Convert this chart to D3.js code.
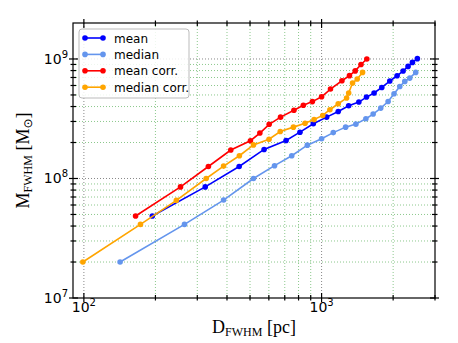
<!DOCTYPE html>
<html>
<head>
<meta charset="utf-8">
<script src="https://cdn.jsdelivr.net/npm/d3@7"></script>
<style>
    body { margin: 0; background: #fff; }
    svg { display: block; }
</style>
</head>
<body>
<div id="chart"></div>
<script>
// Values (D in pc, M in solar masses)
const meanD = [194, 324, 450, 573, 709, 811, 923, 1050, 1175, 1300, 1435, 1545, 1663, 1792, 1936, 2078, 2203, 2311, 2411, 2529];
const meanM = [4.85e7, 8.5e7, 1.26e8, 1.75e8, 2.08e8, 2.44e8, 2.87e8, 3.26e8, 3.63e8, 4.06e8, 4.36e8, 4.8e8, 5.19e8, 5.78e8, 6.54e8, 7.24e8, 7.93e8, 8.67e8, 9.36e8, 1.006e9];

const medianD = [142, 265, 387, 517, 634, 749, 871, 1000, 1120, 1262, 1394, 1536, 1648, 1774, 1905, 2018, 2133, 2239, 2350, 2489];
const medianM = [2e7, 4.13e7, 6.6e7, 1.0e8, 1.28e8, 1.55e8, 1.9e8, 2.15e8, 2.42e8, 2.69e8, 2.85e8, 3.16e8, 3.46e8, 3.88e8, 4.41e8, 5.12e8, 5.89e8, 6.49e8, 6.92e8, 7.72e8];

const meanCorrD = [165, 255, 334, 415, 502, 550, 602, 672, 765, 838, 915, 1000, 1090, 1218, 1310, 1385, 1465, 1550];
const meanCorrM = [4.85e7, 8.5e7, 1.26e8, 1.73e8, 2.07e8, 2.4e8, 2.84e8, 3.26e8, 3.72e8, 4.1e8, 4.4e8, 4.83e8, 5.6e8, 6.57e8, 7.25e8, 7.95e8, 9.0e8, 1.0e9];

const medianCorrD = [99, 173, 245, 327, 387, 451, 517, 601, 670, 761, 852, 930, 1011, 1084, 1175, 1274, 1300, 1350, 1412, 1487];
const medianCorrM = [2e7, 4.13e7, 6.56e7, 1.0e8, 1.27e8, 1.55e8, 1.91e8, 2.13e8, 2.47e8, 2.69e8, 2.9e8, 3.12e8, 3.37e8, 3.76e8, 4.22e8, 4.71e8, 5.19e8, 6.29e8, 6.8e8, 7.72e8];

const seriesNames = ["mean", "median", "mean corr.", "median corr."];
const seriesColors = ["#0000ff", "#6495ed", "#ff0000", "#ffa500"];

const xMajor = [100, 1000];
const xMinor = [200, 300, 400, 500, 600, 700, 800, 900, 2000, 3000];
const yMajor = [1e7, 1e8, 1e9];
const yMinor = [2e7, 3e7, 4e7, 5e7, 6e7, 7e7, 8e7, 9e7, 2e8, 3e8, 4e8, 5e8, 6e8, 7e8, 8e8, 9e8];

const width = 458, height = 343;
const plotLeft = 73, plotRight = 435, plotTop = 23, plotBottom = 298;

const x = d3.scaleLog().domain([90, 3000]).range([plotLeft, plotRight]);
const y = d3.scaleLog().domain([1e7, 2e9]).range([plotBottom, plotTop]);

const svg = d3.select("#chart").append("svg")
    .attr("width", width)
    .attr("height", height)
    .style("font-family", "'DejaVu Sans', sans-serif");

// grid: minor green dotted, major gray dotted
const grid = svg.append("g");
grid.selectAll(".vminor").data(xMinor.filter(d => x(d) < plotRight - 1)).join("line")
    .attr("x1", d => x(d)).attr("x2", d => x(d))
    .attr("y1", plotTop).attr("y2", plotBottom)
    .attr("stroke", "#8cc88c").attr("stroke-dasharray", "1,2");
grid.selectAll(".hminor").data(yMinor).join("line")
    .attr("x1", plotLeft).attr("x2", plotRight)
    .attr("y1", d => y(d)).attr("y2", d => y(d))
    .attr("stroke", "#8cc88c").attr("stroke-dasharray", "1,2");
grid.selectAll(".vmajor").data(xMajor).join("line")
    .attr("x1", d => x(d)).attr("x2", d => x(d))
    .attr("y1", plotTop).attr("y2", plotBottom)
    .attr("stroke", "#888").attr("stroke-dasharray", "1,2");
grid.selectAll(".hmajor").data(yMajor.filter(d => y(d) > plotTop + 1 && y(d) < plotBottom - 1)).join("line")
    .attr("x1", plotLeft).attr("x2", plotRight)
    .attr("y1", d => y(d)).attr("y2", d => y(d))
    .attr("stroke", "#888").attr("stroke-dasharray", "1,2");

// series lines and markers
const series = [
    [meanD, meanM],
    [medianD, medianM],
    [meanCorrD, meanCorrM],
    [medianCorrD, medianCorrM]
];
const line = d3.line().x(d => x(d[0])).y(d => y(d[1]));

series.forEach(([ds, ms], i) => {
    const pts = ds.map((d, j) => [d, ms[j]]);
    const g = svg.append("g");
    g.append("path")
        .datum(pts)
        .attr("d", line)
        .attr("fill", "none")
        .attr("stroke", seriesColors[i])
        .attr("stroke-width", 1.6);
    g.selectAll("circle").data(pts).join("circle")
        .attr("cx", d => x(d[0]))
        .attr("cy", d => y(d[1]))
        .attr("r", 2.8)
        .attr("fill", seriesColors[i]);
});

// frame
svg.append("rect")
    .attr("x", plotLeft).attr("y", plotTop)
    .attr("width", plotRight - plotLeft).attr("height", plotBottom - plotTop)
    .attr("fill", "none").attr("stroke", "#000").attr("stroke-width", 1.2);

// ticks on all four sides (crossing the frame)
const ticks = svg.append("g").attr("stroke", "#000").attr("stroke-width", 1.2);
function xTicks(vals, outLen, inLen) {
    vals.forEach(v => {
        const px = x(v);
        ticks.append("line").attr("x1", px).attr("x2", px).attr("y1", plotBottom + outLen).attr("y2", plotBottom - inLen);
        ticks.append("line").attr("x1", px).attr("x2", px).attr("y1", plotTop - outLen).attr("y2", plotTop + inLen);
    });
}
function yTicks(vals, outLen, inLen) {
    vals.forEach(v => {
        const py = y(v);
        ticks.append("line").attr("x1", plotLeft - outLen).attr("x2", plotLeft + inLen).attr("y1", py).attr("y2", py);
        ticks.append("line").attr("x1", plotRight + outLen).attr("x2", plotRight - inLen).attr("y1", py).attr("y2", py);
    });
}
xTicks(xMajor, 4, 5);
xTicks(xMinor, 2.5, 3);
yTicks(yMajor, 4, 5);
yTicks(yMinor, 2.5, 3);

// tick labels with superscript exponents
function powerLabel(sel, v) {
    sel.append("tspan").text("10");
    sel.append("tspan").attr("dy", -6).attr("font-size", 10).text(Math.round(Math.log10(v)));
}
xMajor.forEach(v => {
    svg.append("text")
        .attr("x", x(v)).attr("y", 312)
        .attr("text-anchor", "middle")
        .attr("font-size", 14)
        .call(powerLabel, v);
});
yMajor.forEach(v => {
    svg.append("text")
        .attr("x", 68).attr("y", y(v) + 5)
        .attr("text-anchor", "end")
        .attr("font-size", 14)
        .call(powerLabel, v);
});

// axis titles
const xt = svg.append("text")
    .attr("x", (plotLeft + plotRight) / 2).attr("y", 333)
    .attr("text-anchor", "middle")
    .attr("font-family", "'Liberation Serif', serif")
    .attr("font-size", 18);
xt.append("tspan").text("D");
xt.append("tspan").attr("dy", 3).attr("font-size", 12).text("FWHM");
xt.append("tspan").attr("dy", -3).text(" [pc]");

const yt = svg.append("text")
    .attr("transform", `translate(29,${(plotTop + plotBottom) / 2}) rotate(-90)`)
    .attr("text-anchor", "middle")
    .attr("font-family", "'Liberation Serif', serif")
    .attr("font-size", 18);
yt.append("tspan").text("M");
yt.append("tspan").attr("dy", 3).attr("font-size", 12).text("FWHM");
yt.append("tspan").attr("dy", -3).text(" [M");
yt.append("tspan").attr("dy", 3).attr("font-size", 12).attr("font-family", "'DejaVu Sans', sans-serif").text("\u2299");
yt.append("tspan").attr("dy", -3).text("]");

// legend
const legend = svg.append("g");
legend.append("rect")
    .attr("x", 79).attr("y", 29)
    .attr("width", 110).attr("height", 69)
    .attr("rx", 3)
    .attr("fill", "#fff").attr("fill-opacity", 0.85)
    .attr("stroke", "#bbb");
seriesNames.forEach((name, i) => {
    const ly = 38 + i * 16.4;
    legend.append("line")
        .attr("x1", 85).attr("x2", 103).attr("y1", ly).attr("y2", ly)
        .attr("stroke", seriesColors[i]).attr("stroke-width", 1.6);
    [85, 103].forEach(cx => legend.append("circle")
        .attr("cx", cx).attr("cy", ly).attr("r", 2.8).attr("fill", seriesColors[i]));
    legend.append("text")
        .attr("x", 114).attr("y", ly + 4.5)
        .attr("font-size", 12)
        .text(name);
});
</script>
</body>
</html>
